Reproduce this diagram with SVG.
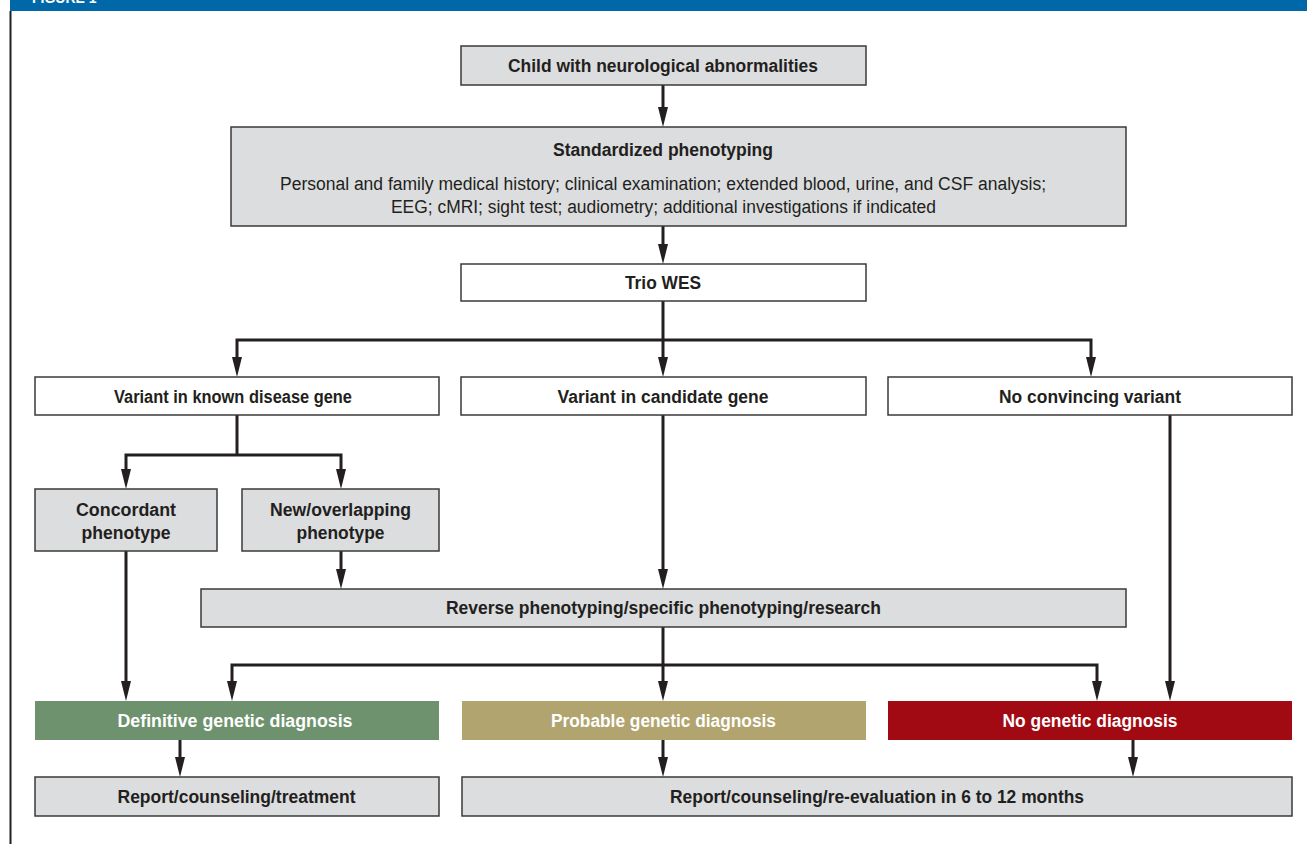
<svg xmlns="http://www.w3.org/2000/svg" width="1307" height="844" viewBox="0 0 1307 844">
<defs>
<style>
.box{stroke:#3a3a3a;stroke-width:1.5}
.g{fill:#dcdddf}
.w{fill:#ffffff}
.t{font-family:"Liberation Sans Narrow","Liberation Sans",Arial,sans-serif;font-weight:bold;font-size:18px;fill:#231f20;text-anchor:middle}
.r{font-weight:normal}
.wt{fill:#ffffff}
.c{fill:none;stroke:#231f20;stroke-width:3;stroke-linejoin:miter}
</style>
<marker id="ah" viewBox="0 0 20 10" markerUnits="userSpaceOnUse" markerWidth="20" markerHeight="10" refX="8" refY="5" orient="auto-start-reverse">
<path d="M0,0 L20,5 L0,10 z" fill="#231f20"/>
</marker>
</defs>
<rect x="0" y="0" width="1307" height="844" fill="#ffffff"/>
<g id="header">
<rect x="10" y="0" width="1297" height="11" fill="#0068a9"/>
<text x="32" y="3" style="font-family:'Liberation Sans',Arial,sans-serif;font-weight:bold;font-size:14px;fill:#ffffff">FIGURE 1</text>
<rect x="9.5" y="11" width="2" height="833" fill="#231f20"/>
</g>
<g id="connectors">
<path class="c" d="M663,85 V115" marker-end="url(#ah)"/>
<path class="c" d="M663,226 V252" marker-end="url(#ah)"/>
<path class="c" d="M663,301 V365" marker-end="url(#ah)"/>
<path class="c" d="M237,365 V340 H1091 V365" marker-start="url(#ah)" marker-end="url(#ah)"/>
<path class="c" d="M237,415 V455"/>
<path class="c" d="M126,477 V455 H341 V477" marker-start="url(#ah)" marker-end="url(#ah)"/>
<path class="c" d="M126,551 V689" marker-end="url(#ah)"/>
<path class="c" d="M341,551 V577" marker-end="url(#ah)"/>
<path class="c" d="M663,415 V577" marker-end="url(#ah)"/>
<path class="c" d="M1170,415 V689" marker-end="url(#ah)"/>
<path class="c" d="M663,627 V689" marker-end="url(#ah)"/>
<path class="c" d="M232,689 V665 H1097 V689" marker-start="url(#ah)" marker-end="url(#ah)"/>
<path class="c" d="M180,740 V765" marker-end="url(#ah)"/>
<path class="c" d="M663,740 V765" marker-end="url(#ah)"/>
<path class="c" d="M1133,740 V765" marker-end="url(#ah)"/>
</g>
<g id="n-child">
<rect class="box g" x="461" y="46" width="405" height="39"/>
<text class="t" x="663" y="72" textLength="310" lengthAdjust="spacingAndGlyphs">Child with neurological abnormalities</text>
</g>
<g id="n-std">
<rect class="box g" x="231" y="127" width="895" height="99"/>
<text class="t" x="663" y="156" textLength="220" lengthAdjust="spacingAndGlyphs">Standardized phenotyping</text>
<text class="t r" x="663" y="190" textLength="766" lengthAdjust="spacingAndGlyphs">Personal and family medical history; clinical examination; extended blood, urine, and CSF analysis;</text>
<text class="t r" x="663.5" y="212.5" textLength="545" lengthAdjust="spacingAndGlyphs">EEG; cMRI; sight test; audiometry; additional investigations if indicated</text>
</g>
<g id="n-trio">
<rect class="box w" x="461" y="264" width="405" height="37"/>
<text class="t" x="663" y="289" textLength="76" lengthAdjust="spacingAndGlyphs">Trio WES</text>
</g>
<g id="n-known">
<rect class="box w" x="35" y="377" width="404" height="38"/>
<text class="t" x="233" y="403" textLength="238" lengthAdjust="spacingAndGlyphs">Variant in known disease gene</text>
</g>
<g id="n-candidate">
<rect class="box w" x="461" y="377" width="405" height="38"/>
<text class="t" x="663" y="403" textLength="211" lengthAdjust="spacingAndGlyphs">Variant in candidate gene</text>
</g>
<g id="n-noconv">
<rect class="box w" x="888" y="377" width="404" height="38"/>
<text class="t" x="1090" y="403" textLength="182" lengthAdjust="spacingAndGlyphs">No convincing variant</text>
</g>
<g id="n-concordant">
<rect class="box g" x="35" y="489" width="182" height="62"/>
<text class="t" x="126" y="516" textLength="100" lengthAdjust="spacingAndGlyphs">Concordant</text>
<text class="t" x="126" y="539" textLength="89" lengthAdjust="spacingAndGlyphs">phenotype</text>
</g>
<g id="n-new">
<rect class="box g" x="242" y="489" width="197" height="62"/>
<text class="t" x="340.5" y="516" textLength="141" lengthAdjust="spacingAndGlyphs">New/overlapping</text>
<text class="t" x="340.5" y="539" textLength="88" lengthAdjust="spacingAndGlyphs">phenotype</text>
</g>
<g id="n-reverse">
<rect class="box g" x="201" y="589" width="925" height="38"/>
<text class="t" x="663.5" y="614" textLength="435" lengthAdjust="spacingAndGlyphs">Reverse phenotyping/specific phenotyping/research</text>
</g>
<g id="n-definitive">
<rect x="35" y="701" width="404" height="39" fill="#6e926e"/>
<text class="t wt" x="235" y="727" textLength="235" lengthAdjust="spacingAndGlyphs">Definitive genetic diagnosis</text>
</g>
<g id="n-probable">
<rect x="462" y="701" width="404" height="39" fill="#b1a46f"/>
<text class="t wt" x="663.5" y="727" textLength="225" lengthAdjust="spacingAndGlyphs">Probable genetic diagnosis</text>
</g>
<g id="n-nogen">
<rect x="888" y="701" width="404" height="39" fill="#a10a12"/>
<text class="t wt" x="1090" y="727" textLength="175" lengthAdjust="spacingAndGlyphs">No genetic diagnosis</text>
</g>
<g id="n-report1">
<rect class="box g" x="35" y="777" width="404" height="39"/>
<text class="t" x="236.5" y="803" textLength="238" lengthAdjust="spacingAndGlyphs">Report/counseling/treatment</text>
</g>
<g id="n-report2">
<rect class="box g" x="462" y="777" width="830" height="39"/>
<text class="t" x="877" y="803" textLength="414" lengthAdjust="spacingAndGlyphs">Report/counseling/re-evaluation in 6 to 12 months</text>
</g>
</svg>
